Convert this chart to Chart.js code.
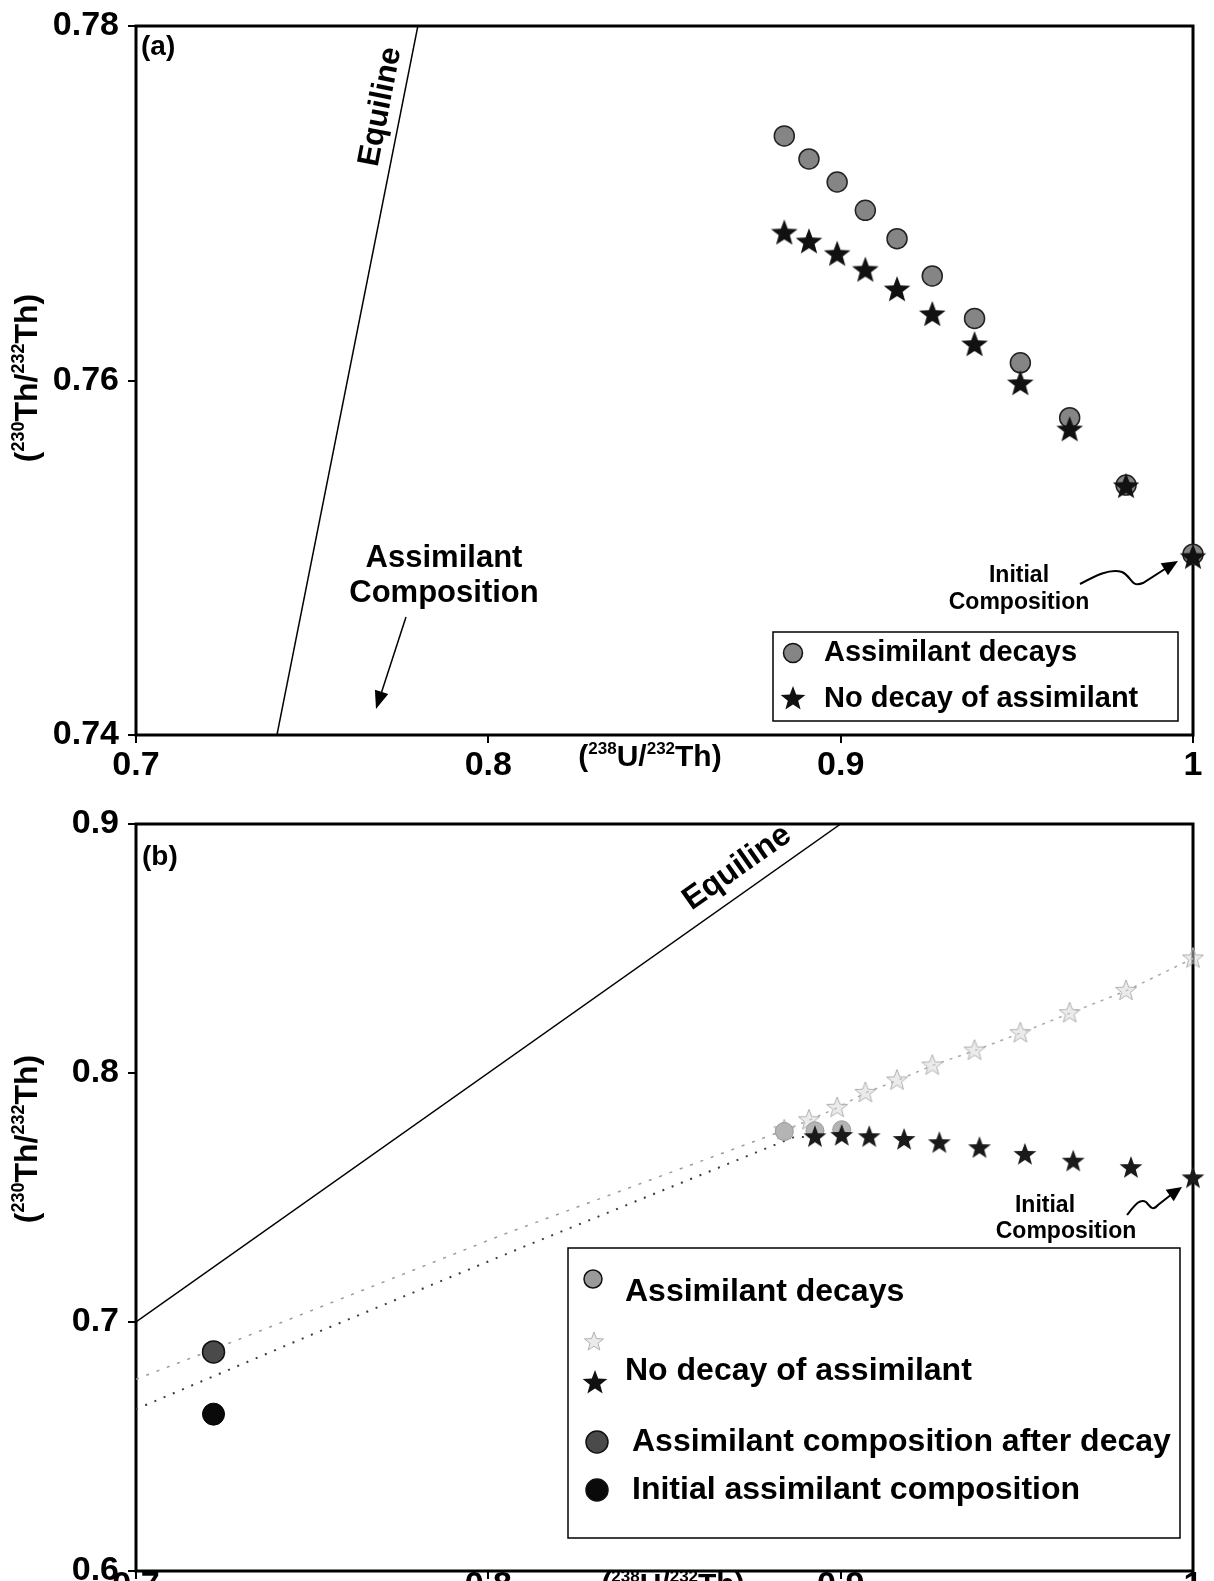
<!DOCTYPE html>
<html>
<head>
<meta charset="utf-8">
<script src="https://cdn.jsdelivr.net/npm/chart.js@4.4.1/dist/chart.umd.min.js"></script>
<style>
  html, body { margin: 0; padding: 0; background: #fff; overflow: hidden; }
  #wrap { position: relative; width: 1214px; height: 1581px; }
  .panel { position: absolute; left: 0; }
  #panelA { top: 0; }
  #panelB { top: 790px; }
</style>
</head>
<body>
<div id="wrap">
  <canvas id="panelA" class="panel" width="1214" height="790"></canvas>
  <canvas id="panelB" class="panel" width="1214" height="850"></canvas>
</div>
<script>
const FONT = '"Liberation Sans", Arial, Helvetica, sans-serif';

// axis ticks
const xTicks = [0.7, 0.8, 0.9, 1.0];
const xTickLabels = ['0.7', '0.8', '0.9', '1'];
const yTicksA = [0.74, 0.76, 0.78];
const yTickLabelsA = ['0.74', '0.76', '0.78'];
const yTicksB = [0.6, 0.7, 0.8, 0.9];
const yTickLabelsB = ['0.6', '0.7', '0.8', '0.9'];

// equiline, (230Th/232Th) = (238U/232Th)
const equiU = [0.7, 0.9];
const equiTh = [0.7, 0.9];

// panel (a)
const uA = [0.884, 0.891, 0.899, 0.907, 0.916, 0.926, 0.938, 0.951, 0.965, 0.981, 1.0];
const decayThA = [0.7738, 0.7725, 0.7712, 0.7696, 0.768, 0.7659, 0.7635, 0.761, 0.7579, 0.7541, 0.7502];
const noDecayThA = [0.7683, 0.7678, 0.7671, 0.7662, 0.7651, 0.7637, 0.762, 0.7598, 0.7572, 0.754, 0.75];

// panel (b)
const noDecayUB = [0.8927, 0.9003, 0.9081, 0.918, 0.928, 0.9394, 0.9523, 0.966, 0.9824, 1.0];
const noDecayThB = [0.7742, 0.7747, 0.7742, 0.7731, 0.7718, 0.7698, 0.7671, 0.7644, 0.7618, 0.7577];
const decayUB = [0.884, 0.8927, 0.9003];
const decayThB = [0.7765, 0.7768, 0.7772];
const fadedUB = [0.884, 0.891, 0.899, 0.907, 0.916, 0.926, 0.938, 0.951, 0.965, 0.981, 1.0];
const fadedThB = [0.777, 0.781, 0.786, 0.792, 0.797, 0.803, 0.809, 0.816, 0.824, 0.833, 0.846];
const upperLineU = [0.7, 0.722, 0.804, 0.884];
const upperLineTh = [0.677, 0.689, 0.735, 0.777];
const lowerLineU = [0.7, 0.75, 0.809, 0.887, 0.8927];
const lowerLineTh = [0.665, 0.695, 0.7296, 0.7744, 0.7742];
const assimDecayedU = [0.722];
const assimDecayedTh = [0.688];
const assimInitialU = [0.722];
const assimInitialTh = [0.663];

const pts = (xs, ys) => xs.map((x, i) => ({ x: x, y: ys[i] }));

function starPath(g, x, y, r) {
  const ri = r * 0.42;
  g.beginPath();
  for (let k = 0; k < 10; k++) {
    const a = -Math.PI / 2 + k * Math.PI / 5;
    const rr = k % 2 ? ri : r;
    g.lineTo(x + rr * Math.cos(a), y + rr * Math.sin(a));
  }
  g.closePath();
}

function starCanvas(r, fill, stroke) {
  const c = document.createElement('canvas');
  const s = Math.ceil(2 * r + 4);
  c.width = c.height = s;
  const g = c.getContext('2d');
  starPath(g, s / 2, s / 2, r);
  if (fill) { g.fillStyle = fill; g.fill(); }
  if (stroke) { g.strokeStyle = stroke; g.lineWidth = 1; g.stroke(); }
  return c;
}

const starA = starCanvas(14, '#111', null);
const starB = starCanvas(12, '#1a1a1a', null);
const starFaint = starCanvas(11, 'rgba(215,215,215,0.5)', '#b0b0b0');

// text with superscript isotope numbers, centred on x, baseline at y
function richText(ctx, parts, x, y, size) {
  const big = 'bold ' + size + 'px ' + FONT;
  const small = 'bold ' + Math.round(size * 0.55) + 'px ' + FONT;
  ctx.textAlign = 'left';
  ctx.textBaseline = 'alphabetic';
  let w = 0;
  parts.forEach(p => { ctx.font = p[1] ? small : big; w += ctx.measureText(p[0]).width; });
  let cx = x - w / 2;
  parts.forEach(p => {
    ctx.font = p[1] ? small : big;
    ctx.fillText(p[0], cx, p[1] ? y - size * 0.4 : y);
    cx += ctx.measureText(p[0]).width;
  });
}

const thTitle = [['(', false], ['230', true], ['Th/', false], ['232', true], ['Th)', false]];
const uTitle = [['(', false], ['238', true], ['U/', false], ['232', true], ['Th)', false]];

function yTitle(ctx, cx, cy, size) {
  ctx.save();
  ctx.translate(cx, cy);
  ctx.rotate(-Math.PI / 2);
  richText(ctx, thTitle, 0, size * 0.36, size);
  ctx.restore();
}

function text(ctx, s, x, y, size, align) {
  ctx.font = 'bold ' + size + 'px ' + FONT;
  ctx.textAlign = align || 'center';
  ctx.textBaseline = 'middle';
  ctx.fillText(s, x, y);
}

function arrowHead(ctx, fx, fy, tx, ty, len, half) {
  const a = Math.atan2(ty - fy, tx - fx);
  ctx.beginPath();
  ctx.moveTo(tx, ty);
  ctx.lineTo(tx - len * Math.cos(a) + half * Math.sin(a), ty - len * Math.sin(a) - half * Math.cos(a));
  ctx.lineTo(tx - len * Math.cos(a) - half * Math.sin(a), ty - len * Math.sin(a) + half * Math.cos(a));
  ctx.closePath();
  ctx.fill();
}

function rotatedLabel(ctx, s, x, y, deg, size, offset) {
  ctx.save();
  ctx.translate(x, y);
  ctx.rotate(deg * Math.PI / 180);
  ctx.font = 'bold ' + size + 'px ' + FONT;
  ctx.textAlign = 'center';
  ctx.textBaseline = 'alphabetic';
  ctx.fillText(s, 0, -offset);
  ctx.restore();
}

function legendCircle(ctx, x, y, r, fill) {
  ctx.beginPath();
  ctx.arc(x, y, r, 0, Math.PI * 2);
  ctx.fillStyle = fill;
  ctx.fill();
  ctx.lineWidth = 1.5;
  ctx.strokeStyle = '#111';
  ctx.stroke();
}

const framePlugin = {
  id: 'frame',
  beforeDatasetsDraw(chart) {
    const a = chart.chartArea, ctx = chart.ctx;
    ctx.save();
    ctx.strokeStyle = '#000';
    ctx.lineWidth = 3;
    ctx.strokeRect(a.left, a.top, a.right - a.left, a.bottom - a.top);
    ctx.restore();
  }
};

function scaleX(height, pad) {
  return {
    type: 'linear', min: 0.7, max: 1.0,
    afterBuildTicks: s => { s.ticks = xTicks.map(v => ({ value: v })); },
    afterFit: s => { s.height = height; },
    ticks: {
      callback: (v, i) => xTickLabels[i],
      font: { family: FONT, size: 34, weight: 'bold', lineHeight: 1 }, color: '#000',
      padding: pad, maxRotation: 0, autoSkip: false
    },
    grid: { drawOnChartArea: false, drawTicks: true, tickLength: 8, color: '#000', lineWidth: 2 },
    border: { display: false }
  };
}

function scaleY(min, max, ticks, labels) {
  return {
    type: 'linear', min: min, max: max,
    afterBuildTicks: s => { s.ticks = ticks.map(v => ({ value: v })); },
    afterFit: s => { s.width = 136; },
    ticks: {
      callback: (v, i) => labels[i],
      font: { family: FONT, size: 34, weight: 'bold', lineHeight: 1 }, color: '#000',
      padding: 9, autoSkip: false
    },
    grid: { drawOnChartArea: false, drawTicks: true, tickLength: 8, color: '#000', lineWidth: 2 },
    border: { display: false }
  };
}

const common = {
  responsive: false,
  animation: false,
  devicePixelRatio: 1,
  plugins: { legend: { display: false }, tooltip: { enabled: false } }
};

// ---- panel (a) ----
new Chart(document.getElementById('panelA'), {
  type: 'scatter',
  data: {
    datasets: [
      { label: 'No decay of assimilant', data: pts(uA, noDecayThA), pointStyle: starA, pointRadius: 14, clip: false },
      { label: 'Assimilant decays', data: pts(uA, decayThA), pointStyle: 'circle', pointRadius: 10,
        backgroundColor: '#858585', borderColor: '#222', borderWidth: 1.5, clip: false },
      { label: 'Equiline', data: pts(equiU, equiTh), showLine: true, pointRadius: 0,
        borderColor: '#000', borderWidth: 1.5 }
    ]
  },
  options: Object.assign({}, common, {
    layout: { padding: { top: 22, right: 21, left: 0, bottom: 0 } },
    scales: { x: scaleX(55, 6), y: scaleY(0.74, 0.78, yTicksA, yTickLabelsA) }
  }),
  plugins: [framePlugin, {
    id: 'notesA',
    afterDatasetsDraw(chart) {
      const ctx = chart.ctx;
      ctx.save();
      ctx.fillStyle = '#000';
      ctx.strokeStyle = '#000';
      text(ctx, '(a)', 141, 47, 28, 'left');
      rotatedLabel(ctx, 'Equiline', 392, 109, -79.05, 31, 3);

      text(ctx, 'Assimilant', 444, 558, 31);
      text(ctx, 'Composition', 444, 593, 31);
      ctx.lineWidth = 1.5;
      ctx.beginPath(); ctx.moveTo(406, 617); ctx.lineTo(380, 697); ctx.stroke();
      arrowHead(ctx, 406, 617, 376, 709, 18, 7);

      text(ctx, 'Initial', 1019, 576, 23);
      text(ctx, 'Composition', 1019, 603, 23);
      ctx.lineWidth = 2;
      ctx.beginPath();
      ctx.moveTo(1080, 584);
      ctx.bezierCurveTo(1095, 576, 1110, 568, 1122, 572);
      ctx.bezierCurveTo(1132, 576, 1130, 588, 1143, 583);
      ctx.lineTo(1168, 567);
      ctx.stroke();
      arrowHead(ctx, 1155, 575, 1178, 561, 16, 7);

      // legend
      ctx.lineWidth = 1.5;
      ctx.strokeRect(773, 632, 405, 89);
      legendCircle(ctx, 793, 653, 9.5, '#858585');
      ctx.fillStyle = '#111';
      starPath(ctx, 793, 699, 13); ctx.fill();
      ctx.fillStyle = '#000';
      text(ctx, 'Assimilant decays', 824, 653, 29, 'left');
      text(ctx, 'No decay of assimilant', 824, 699, 29, 'left');

      yTitle(ctx, 25, 378, 32);
      richText(ctx, uTitle, 650, 766, 30);
      ctx.restore();
    }
  }]
});

// ---- panel (b) ----
new Chart(document.getElementById('panelB'), {
  type: 'scatter',
  data: {
    datasets: [
      { label: 'No decay of assimilant', data: pts(noDecayUB, noDecayThB), pointStyle: starB, pointRadius: 12, clip: false },
      { label: 'Assimilant decays', data: pts(decayUB, decayThB), pointStyle: 'circle', pointRadius: 9,
        backgroundColor: '#b4b4b4', borderColor: '#999', borderWidth: 1, clip: false },
      { label: 'No decay (faint)', data: pts(fadedUB, fadedThB), pointStyle: starFaint, pointRadius: 11,
        showLine: true, borderColor: '#a8a8a8', borderWidth: 1.5, borderDash: [3, 6], clip: false },
      { label: 'Assimilant composition after decay', data: pts(assimDecayedU, assimDecayedTh), pointStyle: 'circle',
        pointRadius: 11, backgroundColor: '#4a4a4a', borderColor: '#111', borderWidth: 1.5 },
      { label: 'Initial assimilant composition', data: pts(assimInitialU, assimInitialTh), pointStyle: 'circle',
        pointRadius: 11, backgroundColor: '#0a0a0a', borderColor: '#000', borderWidth: 1 },
      { label: 'upper mixing', data: pts(upperLineU, upperLineTh), showLine: true, pointRadius: 0,
        borderColor: '#9a9a9a', borderWidth: 1.5, borderDash: [3, 8] },
      { label: 'lower mixing', data: pts(lowerLineU, lowerLineTh), showLine: true, pointRadius: 0,
        borderColor: '#3c3c3c', borderWidth: 2, borderDash: [2, 8] },
      { label: 'Equiline', data: pts(equiU, equiTh), showLine: true, pointRadius: 0,
        borderColor: '#000', borderWidth: 1.5 }
    ]
  },
  options: Object.assign({}, common, {
    layout: { padding: { top: 34, right: 21, left: 0, bottom: 0 } },
    scales: { x: scaleX(69, -10), y: scaleY(0.6, 0.9, yTicksB, yTickLabelsB) }
  }),
  plugins: [framePlugin, {
    id: 'notesB',
    afterDatasetsDraw(chart) {
      const ctx = chart.ctx;
      ctx.save();
      ctx.fillStyle = '#000';
      ctx.strokeStyle = '#000';
      text(ctx, '(b)', 142, 67, 28, 'left');
      rotatedLabel(ctx, 'Equiline', 748, 93, -35.2, 32, 10);

      text(ctx, 'Initial', 1045, 416, 23);
      text(ctx, 'Composition', 1066, 442, 23);
      ctx.lineWidth = 2;
      ctx.beginPath();
      ctx.moveTo(1127, 425);
      ctx.bezierCurveTo(1135, 415, 1140, 408, 1146, 412);
      ctx.bezierCurveTo(1150, 416, 1152, 422, 1158, 415);
      ctx.lineTo(1172, 404);
      ctx.stroke();
      arrowHead(ctx, 1162, 411, 1182, 397, 15, 7);

      // legend
      ctx.lineWidth = 1.5;
      ctx.strokeRect(568, 458, 612, 290);
      legendCircle(ctx, 593, 489, 9, '#9a9a9a');
      ctx.fillStyle = 'rgba(215,215,215,0.5)';
      ctx.strokeStyle = '#b0b0b0';
      ctx.lineWidth = 1;
      starPath(ctx, 594, 552, 10); ctx.fill(); ctx.stroke();
      ctx.fillStyle = '#111';
      starPath(ctx, 595, 593, 13); ctx.fill();
      legendCircle(ctx, 597, 652, 11, '#4a4a4a');
      legendCircle(ctx, 597, 700, 11, '#0a0a0a');
      ctx.fillStyle = '#000';
      text(ctx, 'Assimilant decays', 625, 502, 32, 'left');
      text(ctx, 'No decay of assimilant', 625, 581, 32, 'left');
      text(ctx, 'Assimilant composition after decay', 632, 652, 32, 'left');
      text(ctx, 'Initial assimilant composition', 632, 700, 32, 'left');

      yTitle(ctx, 25, 349, 32);
      richText(ctx, uTitle, 673, 804, 30);
      ctx.restore();
    }
  }]
});
</script>
</body>
</html>
